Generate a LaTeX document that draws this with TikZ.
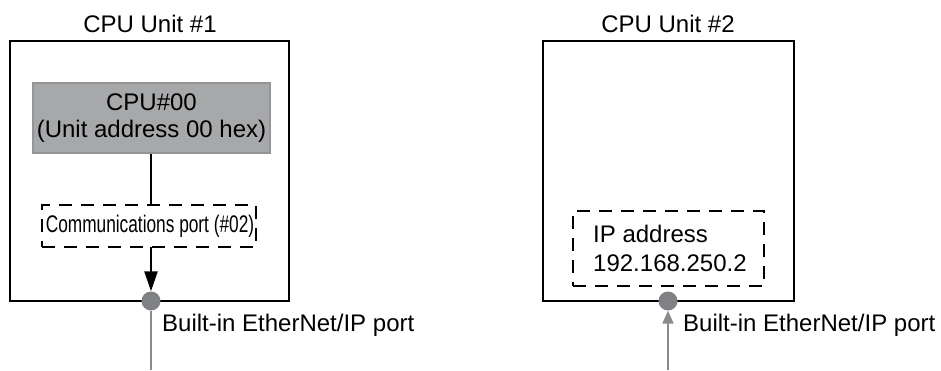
\documentclass[tikz,border=0pt]{standalone}
\usepackage{fontspec}
\setmainfont{Liberation Sans}
\usetikzlibrary{arrows.meta}
\definecolor{boxgray}{HTML}{A7A8AA}
\definecolor{boxedge}{HTML}{949597}
\definecolor{dotgray}{HTML}{808184}
\definecolor{linegray}{HTML}{8A8B8D}
\tikzset{
  unitbox/.style={draw=black, line width=2.4pt, inner sep=0pt},
  cpubox/.style={draw=boxedge, fill=boxgray, line width=1.5pt, inner sep=0pt, align=center, font=\fontsize{24}{27.5}\selectfont},
  dashbox/.style={draw=black, line width=2.4pt, dash pattern=on 13pt off 9pt, inner sep=0pt},
  lbl/.style={font=\fontsize{24}{29}\selectfont, inner sep=0pt},
  portdot/.style={circle, fill=dotgray, minimum size=19pt, inner sep=0pt},
  conn/.style={line width=2.4pt, -{Triangle[length=20pt,width=13pt]}},
  gconn/.style={draw=linegray, line width=2pt},
}
\begin{document}
\begin{tikzpicture}[x=1pt,y=-1pt]
\useasboundingbox (0,0) rectangle (941,370);
% Unit 1
\node[unitbox, minimum width=279pt, minimum height=260pt] (u1) at (149.5,171) {};
\node[lbl] (t1) at (150,24) {CPU Unit \#1};
\node[cpubox, minimum width=237pt, minimum height=70pt] (cpu) at (151.5,118) {CPU\#00\\(Unit address 00 hex)};
\node[dashbox, minimum width=214pt, minimum height=42pt] (cp) at (149,226) {};
\node[lbl, anchor=center] (cpt) at (150,226) {\scalebox{0.72}[1]{Communications port (\#02)}};
\coordinate (cpin) at (151,205);
\coordinate (cpout) at (151,247);
\node[portdot] (d1) at (151,301) {};
\draw[line width=2.4pt] (cpu.south -| cpin) -- (cpin);
\draw[conn] (cpout) -- (d1.north);
\coordinate (b1) at (151,370);
\draw[gconn] (d1.south) -- (b1);
\node[lbl, anchor=west] (p1) at (162,325) {Built-in EtherNet/IP port};
% Unit 2
\node[unitbox, minimum width=251pt, minimum height=260pt] (u2) at (668.5,171) {};
\node[lbl] (t2) at (668,24) {CPU Unit \#2};
\node[dashbox, minimum width=191pt, minimum height=75pt] (ip) at (668.5,248.5) {};
\node[lbl, anchor=west, align=left] (ipt) at (593,248) {IP address\\192.168.250.2};
\node[portdot] (d2) at (668,301) {};
\coordinate (b2) at (668,370);
\draw[gconn, -{Triangle[length=13pt,width=11pt]}] (b2) -- (d2.south);
\node[lbl, anchor=west] (p2) at (683,325) {Built-in EtherNet/IP port};
\end{tikzpicture}
\end{document}
